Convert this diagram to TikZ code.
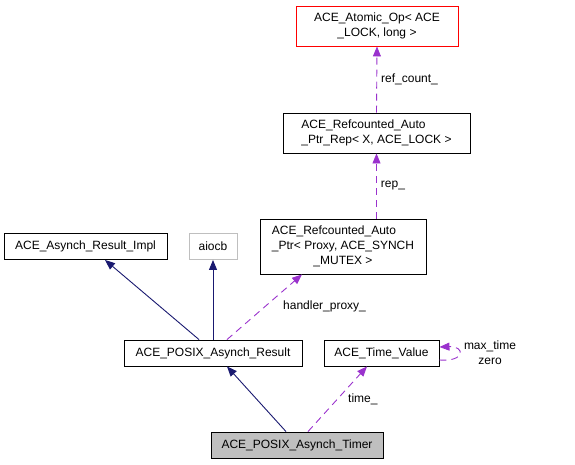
\documentclass[tikz,border=0pt]{standalone}
\usepackage{fontspec}
\setmainfont{Liberation Sans}
\usetikzlibrary{arrows.meta}
\definecolor{navyc}{HTML}{191970}
\definecolor{purp}{HTML}{9A32CD}
\definecolor{grayb}{HTML}{BFBFBF}
\begin{document}
\begin{tikzpicture}[x=1pt,y=-1pt,
  every node/.style={font=\fontsize{12}{14.5}\selectfont},
  box/.style={draw=black,line width=0.9pt,inner sep=0pt,align=center},
  inh/.style={draw=navyc,line width=0.9pt,-{Triangle[length=10pt,width=8pt]}},
  use/.style={draw=purp,line width=0.9pt,dash pattern=on 7pt off 5pt,-{Triangle[length=10pt,width=8pt]}},
  lbl/.style={anchor=west,inner sep=0pt}]
\useasboundingbox (0,0) rectangle (575,464);
\node[box,draw=red,minimum width=162pt,minimum height=40pt] (atomic) at (377,26) {ACE\_Atomic\_Op< ACE\\\_LOCK, long >};
\node[box,minimum width=187pt,minimum height=40pt] (rep) at (376.5,133) {\renewcommand{\arraystretch}{1.05}\begin{tabular}{@{}l@{}}ACE\_Refcounted\_Auto\\\_Ptr\_Rep< X, ACE\_LOCK >\end{tabular}};
\node[box,minimum width=166pt,minimum height=55pt] (ptr) at (343,246.5) {\renewcommand{\arraystretch}{1.05}\begin{tabular}{@{}l@{}}ACE\_Refcounted\_Auto\\\_Ptr< Proxy, ACE\_SYNCH\\\multicolumn{1}{@{}c@{}}{\_MUTEX >}\end{tabular}};
\node[box,minimum width=163pt,minimum height=26pt] (impl) at (85.5,246.5) {ACE\_Asynch\_Result\_Impl};
\node[box,draw=grayb,minimum width=48pt,minimum height=26pt] (aiocb) at (213,246.5) {aiocb};
\node[box,minimum width=178pt,minimum height=26pt] (result) at (213,353) {ACE\_POSIX\_Asynch\_Result};
\node[box,minimum width=115pt,minimum height=26pt] (tv) at (381.5,353) {ACE\_Time\_Value};
\node[box,fill=grayb,minimum width=172pt,minimum height=26pt] (timer) at (297,445) {ACE\_POSIX\_Asynch\_Timer};
% edges
\draw[use] (rep.north) -- (atomic.south) node[lbl,pos=0.5,xshift=4pt] (l1) {ref\_count\_};
\draw[use] (rep.south |- ptr.north) -- (rep.south) node[lbl,pos=0.5,xshift=4pt] (l2) {rep\_};
\draw[inh] ([xshift=-14pt]result.north) -- ([xshift=19.5pt]impl.south);
\draw[inh] (result.north) -- (aiocb.south);
\draw[use] ([xshift=14pt]result.north) -- ([xshift=-41pt]ptr.south);
\node[lbl] (l3) at (283,306) {handler\_proxy\_};
\draw[inh] ([xshift=-11pt]timer.north) -- ([xshift=14pt]result.south);
\draw[use] ([xshift=11pt]timer.north) -- ([xshift=-14.5pt]tv.south);
\node[lbl] (l4) at (348,399) {time\_};
\draw[use] ([yshift=-7pt]tv.east) .. controls ([xshift=26pt,yshift=-9pt]tv.east) and ([xshift=26pt,yshift=7pt]tv.east) .. ([yshift=6pt]tv.east);
\node[inner sep=0pt,align=center] (l5) at (490,352.5) {max\_time\\zero};
\end{tikzpicture}
\end{document}
